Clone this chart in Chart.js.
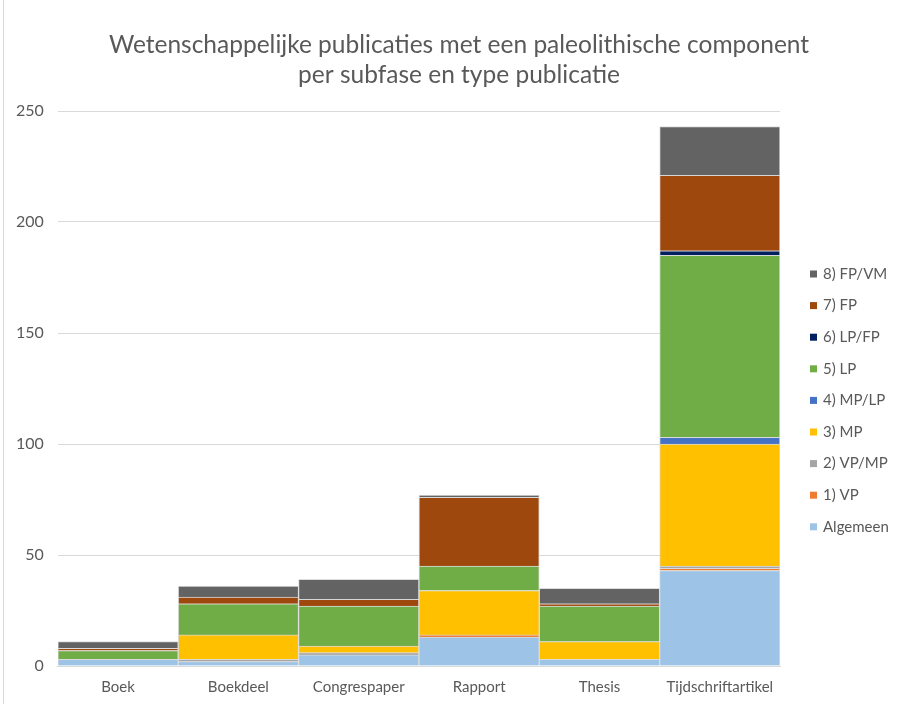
<!DOCTYPE html>
<html>
<head>
<meta charset="utf-8">
<script src="https://cdn.jsdelivr.net/npm/chart.js@4/dist/chart.umd.min.js"></script>
<style>
  html, body { margin: 0; padding: 0; background: #ffffff; }
  #wrap { width: 901px; height: 704px; position: relative; }
</style>
</head>
<body>
<div id="wrap"><canvas id="c" width="901" height="704"></canvas></div>
<script>
const categories = ['Boek', 'Boekdeel', 'Congrespaper', 'Rapport', 'Thesis', 'Tijdschriftartikel'];
const algemeen = [3, 2, 5, 13, 3, 43];
const vp       = [0, 0, 0, 1, 0, 1];
const vpmp     = [0, 1, 1, 0, 0, 1];
const mp       = [0, 11, 3, 20, 8, 55];
const mplp     = [0, 0, 0, 0, 0, 3];
const lp       = [4, 14, 18, 11, 16, 82];
const lpfp     = [0, 0, 0, 0, 0, 2];
const fp       = [1, 3, 3, 31, 1, 34];
const fpvm     = [3, 5, 9, 1, 7, 22];
const titleLines = ['Wetenschappelijke publicaties met een paleolithische component', 'per subfase en type publicatie'];

const seriesDefs = [
  ['Algemeen', algemeen, '#9DC3E6'],
  ['1) VP', vp, '#ED7D31'],
  ['2) VP/MP', vpmp, '#A5A5A5'],
  ['3) MP', mp, '#FFC000'],
  ['4) MP/LP', mplp, '#4472C4'],
  ['5) LP', lp, '#70AD47'],
  ['6) LP/FP', lpfp, '#002060'],
  ['7) FP', fp, '#9E480E'],
  ['8) FP/VM', fpvm, '#636363']
];

const datasets = seriesDefs.map(([label, data, color]) => ({
  label, data,
  backgroundColor: color,
  borderColor: 'rgba(217,217,217,0.9)',
  borderWidth: 1,
  barPercentage: 1.0,
  categoryPercentage: 1.0
}));

const fontFamily = 'Lato, "Open Sans", sans-serif';
Chart.defaults.font.family = fontFamily;
Chart.defaults.color = '#595959';

// Title (centred on the whole canvas) and right-hand legend drawn from the datasets
const decor = {
  id: 'decor',
  beforeDraw(chart) {
    const ctx = chart.ctx;
    ctx.save();
    ctx.strokeStyle = '#d9d9d9';
    ctx.lineWidth = 1;
    ctx.beginPath();
    ctx.moveTo(3.5, 0);
    ctx.lineTo(3.5, 704);
    ctx.stroke();
    ctx.restore();
  },
  afterDraw(chart) {
    const ctx = chart.ctx;
    ctx.save();
    ctx.fillStyle = '#595959';
    ctx.textAlign = 'center';
    ctx.textBaseline = 'middle';
    ctx.font = '24.5px ' + fontFamily;
    titleLines.forEach((t, i) => ctx.fillText(t, 459, 45 + i * 30));

    const ds = chart.data.datasets;
    const x = 810, y0 = 274, step = 31.6, box = 7;
    ctx.font = '15px ' + fontFamily;
    ctx.textAlign = 'left';
    for (let i = 0; i < ds.length; i++) {
      const d = ds[ds.length - 1 - i];
      const y = y0 + i * step;
      ctx.fillStyle = d.backgroundColor;
      ctx.fillRect(x, y - box / 2, box, box);
      ctx.fillStyle = '#595959';
      ctx.fillText(d.label, x + 13, y);
    }
    ctx.restore();
  }
};

new Chart(document.getElementById('c'), {
  type: 'bar',
  data: { labels: categories, datasets },
  plugins: [decor],
  options: {
    responsive: false,
    animation: false,
    layout: { padding: { left: 2, right: 121, top: 111, bottom: 0 } },
    plugins: {
      title: { display: false },
      legend: { display: false },
      tooltip: { enabled: false }
    },
    scales: {
      x: {
        stacked: true,
        grid: { display: false, drawTicks: false },
        border: { display: true, color: '#d9d9d9' },
        ticks: { color: '#595959', font: { size: 15 }, padding: 12, maxRotation: 0, minRotation: 0, autoSkip: false },
        afterFit(s) { s.height = 38; }
      },
      y: {
        stacked: true,
        min: 0,
        max: 250,
        ticks: { stepSize: 50, color: '#595959', font: { size: 16 }, padding: 14 },
        grid: { color: '#d9d9d9', drawTicks: false },
        border: { display: false }
      }
    }
  }
});
</script>
</body>
</html>
